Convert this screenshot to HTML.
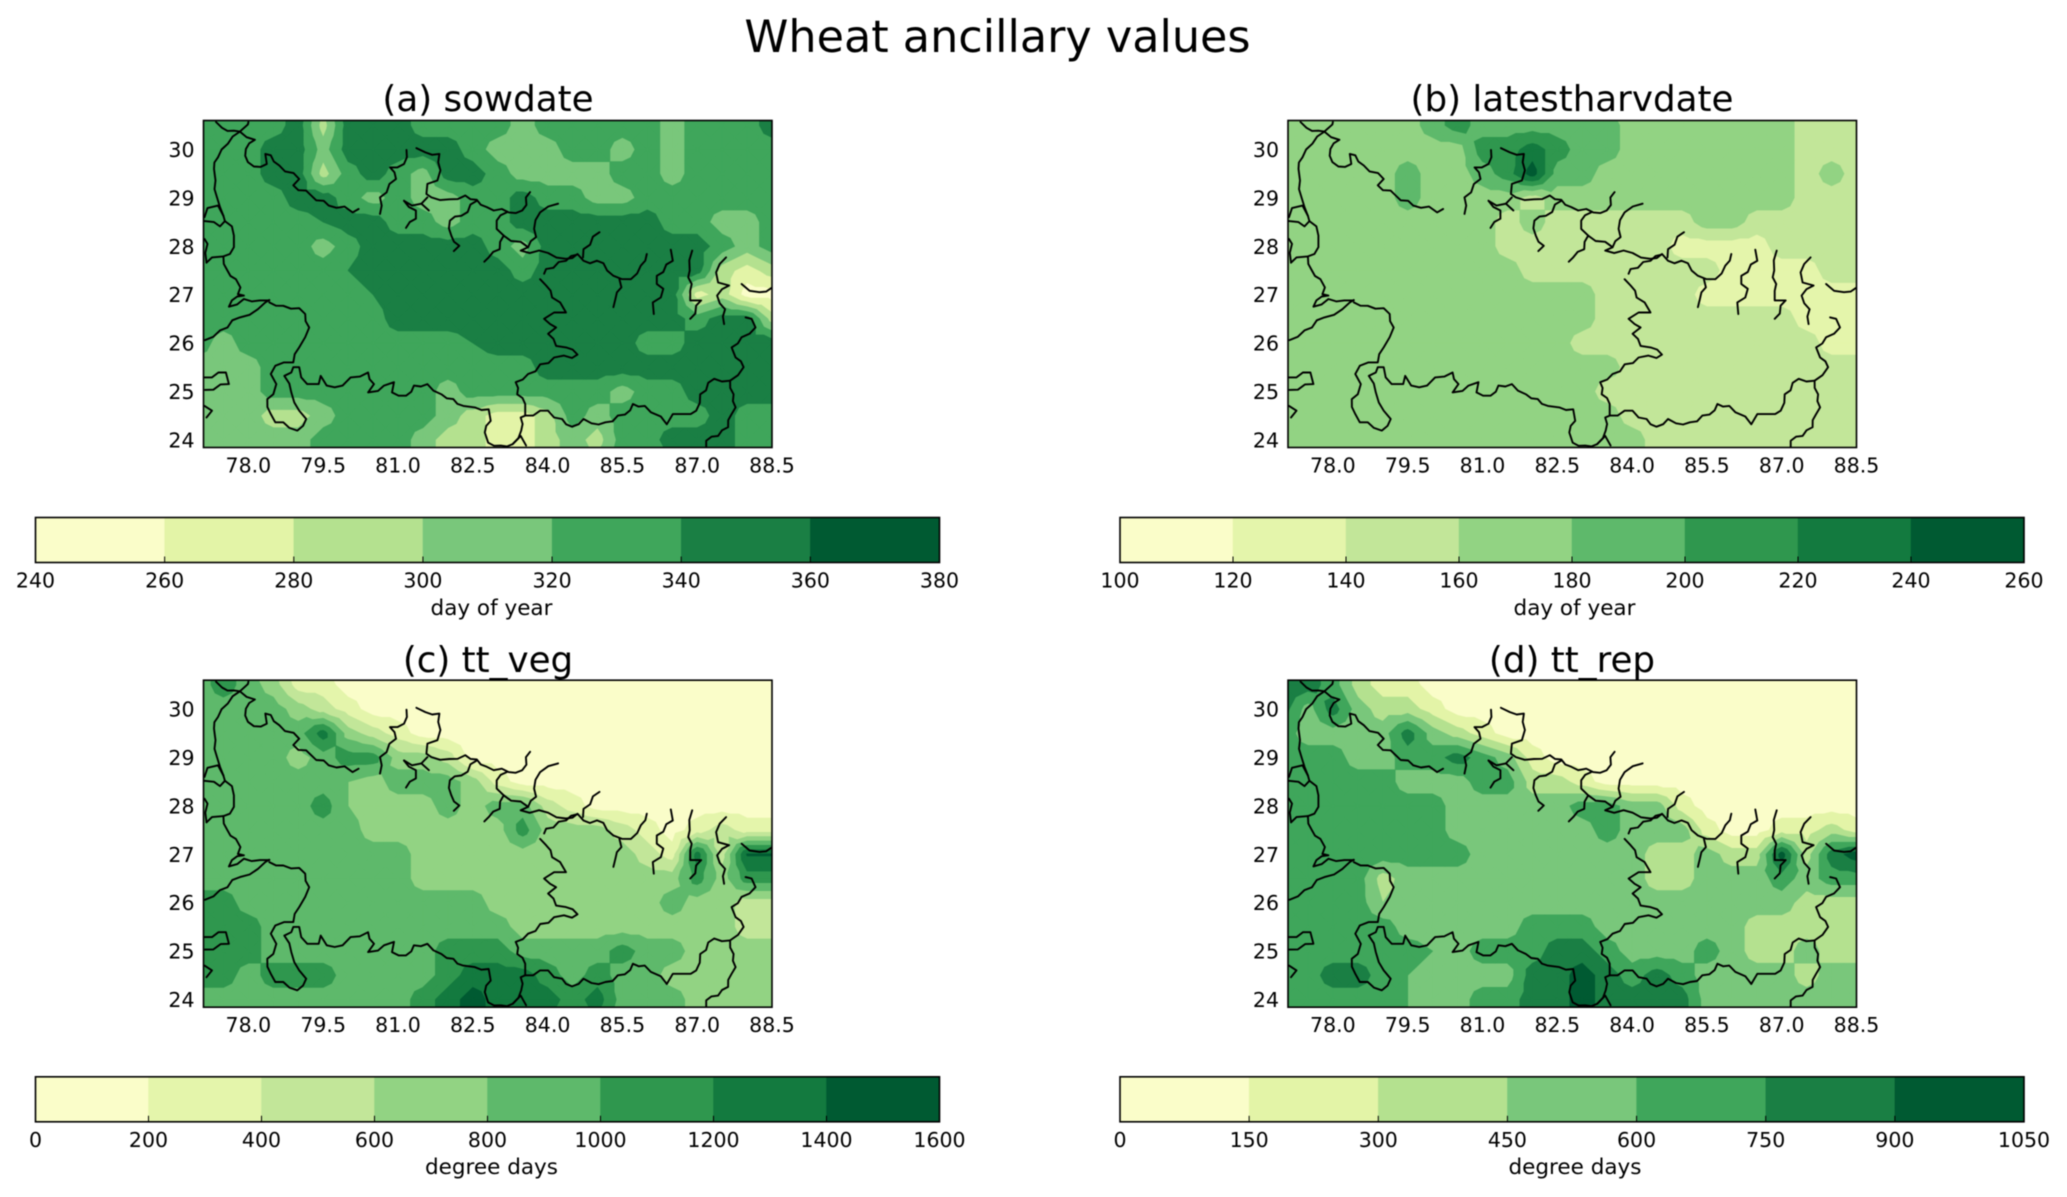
<!DOCTYPE html>
<html>
<head>
<meta charset="utf-8">
<title>Wheat ancillary values</title>
<style>
html,body{margin:0;padding:0;background:#fff;}
svg{display:block;filter:blur(0.4px);}
text{font-family:"DejaVu Sans","Liberation Sans",sans-serif;fill:#000;}
</style>
</head>
<body>
<svg id="figure" xmlns="http://www.w3.org/2000/svg" width="2067" height="1197" viewBox="0 0 2067 1197">
  <text x="997.5" y="52" font-size="44.5" text-anchor="middle">Wheat ancillary values</text>
  <g id="panel-a">
    <text x="488" y="111" font-size="35.7" text-anchor="middle">(a) sowdate</text>
    <text x="491.5" y="615" font-size="21.5" text-anchor="middle">day of year</text>
  </g>
  <g id="panel-b">
    <text x="1572" y="111" font-size="35.7" text-anchor="middle">(b) latestharvdate</text>
    <text x="1574.5" y="615" font-size="21.5" text-anchor="middle">day of year</text>
  </g>
  <g id="panel-c">
    <text x="488" y="672" font-size="35.7" text-anchor="middle">(c) tt_veg</text>
    <text x="491.5" y="1174" font-size="21.5" text-anchor="middle">degree days</text>
  </g>
  <g id="panel-d">
    <text x="1572" y="672" font-size="35.7" text-anchor="middle">(d) tt_rep</text>
    <text x="1575" y="1174" font-size="21.5" text-anchor="middle">degree days</text>
  </g>
</svg>
<script>
// ---------- axis ticks ----------
const lonTickLabels = ["78.0","79.5","81.0","82.5","84.0","85.5","87.0","88.5"];
const latTickLabels = ["24","25","26","27","28","29","30"];

// ---------- grid coordinates ----------
const gridLons = [77,77.5,78,78.5,79,79.5,80,80.5,81,81.5,82,82.5,83,83.5,84,84.5,85,85.5,86,86.5,87,87.5,88,88.5];
const gridLats = [31,30.5,30,29.5,29,28.5,28,27.5,27,26.5,26,25.5,25,24.5,24,23.5];

// ---------- contour levels ----------
const sowdateLevels = [240,260,280,300,320,340,360,380];
const latestharvdateLevels = [100,120,140,160,180,200,220,240,260];
const ttVegLevels = [0,200,400,600,800,1000,1200,1400,1600];
const ttRepLevels = [0,150,300,450,600,750,900,1050];

// ---------- colours ----------
const sevenBandColors = ["#fafdc9","#e3f4a7","#b4e18f","#79c77b","#3fa65b","#1a7f44","#005a32"];
const eightBandColors = ["#fafdc9","#e4f5ab","#c2e699","#92d383","#5eb96b","#2f974e","#137a3f","#005a32"];

// ---------- gridded values (rows north to south, columns west to east) ----------
const sowdateValues = [
[330,330,330,330,350,310,350,350,350,330,330,330,330,310,330,330,330,310,330,310,330,330,330,350],
[330,330,330,330,350,290,350,350,350,330,330,330,330,310,330,330,330,330,330,310,330,330,330,350],
[330,330,330,350,350,310,350,350,350,350,350,330,310,310,310,330,330,310,330,310,330,330,330,330],
[330,330,330,350,350,290,330,350,330,310,350,350,330,310,310,310,310,330,330,310,330,330,330,330],
[330,330,330,330,350,350,330,310,330,310,310,330,330,350,330,330,310,310,330,330,330,330,330,330],
[330,330,330,330,330,340,350,350,330,330,310,330,330,350,350,350,350,350,350,330,330,310,310,330],
[330,330,330,330,330,310,330,350,350,350,350,350,330,310,350,350,350,350,350,350,350,330,310,330],
[330,330,330,330,330,330,340,350,350,350,350,350,350,330,350,350,350,350,350,350,350,290,270,290],
[330,330,330,330,330,330,330,340,350,350,350,350,350,350,350,350,350,350,350,350,270,290,250,250],
[330,330,330,330,330,330,330,330,350,350,350,350,350,350,350,350,350,350,350,350,330,350,350,290],
[330,310,330,330,330,330,330,330,330,330,330,340,350,350,350,350,350,350,330,330,350,350,350,350],
[310,310,310,330,330,330,330,330,330,330,330,330,330,330,350,350,350,350,350,350,350,350,350,350],
[310,310,310,330,330,330,330,330,330,330,310,330,330,330,330,330,330,310,330,330,350,350,350,350],
[310,310,310,290,290,310,330,330,330,330,310,290,270,270,290,330,310,330,330,330,330,350,330,330],
[310,310,310,310,310,330,330,330,330,310,290,290,270,270,290,310,290,330,330,350,350,350,330,330],
[330,310,310,310,310,330,330,330,330,310,290,290,270,270,290,310,310,330,330,330,330,350,330,330]
];
const latestharvdateValues = [
[170,170,170,170,170,170,190,210,190,190,190,190,190,170,170,170,170,170,170,170,170,150,150,150],
[170,170,170,170,170,170,190,210,190,190,190,190,190,190,170,170,170,170,170,170,170,150,150,150],
[170,170,170,170,170,170,170,170,210,210,230,210,190,190,170,170,170,170,170,170,170,150,150,150],
[170,170,170,170,170,190,170,170,190,210,250,190,190,170,170,170,170,170,170,170,170,150,170,150],
[170,170,170,170,170,190,170,170,170,170,150,170,170,170,170,170,170,170,170,170,170,150,150,150],
[170,170,170,170,170,170,170,170,170,150,170,150,150,150,150,150,150,170,170,150,150,150,150,150],
[170,170,170,170,170,170,170,170,170,150,150,150,150,150,150,150,130,130,130,130,150,150,150,150],
[170,170,170,170,170,170,170,170,170,170,150,150,150,150,150,150,150,150,130,130,130,130,150,150],
[170,170,170,170,170,170,170,170,170,170,170,170,170,150,150,150,150,130,130,130,130,130,130,130],
[170,170,170,170,170,170,170,170,170,170,170,170,170,150,150,150,150,150,150,150,150,130,130,130],
[170,170,170,170,170,170,170,170,170,170,170,170,150,150,150,150,150,150,150,150,150,150,130,130],
[170,170,170,170,170,170,170,170,170,170,170,170,170,170,150,150,150,150,150,150,150,150,150,150],
[170,170,170,170,170,170,170,170,170,170,170,170,170,150,150,150,150,150,150,150,150,150,150,150],
[170,170,170,170,170,170,170,170,170,170,170,170,170,170,150,150,150,150,150,150,150,150,150,150],
[170,170,170,170,170,170,170,170,170,170,170,170,170,170,170,150,150,150,150,150,150,150,150,150],
[170,170,170,170,170,170,170,170,170,170,170,170,170,170,170,150,150,150,150,150,150,150,150,150]
];
const ttVegValues = [
[900,1100,900,500,300,100,100,100,100,100,100,100,100,100,100,100,100,100,100,100,100,100,100,100],
[900,1100,900,700,300,300,100,100,100,100,100,100,100,100,100,100,100,100,100,100,100,100,100,100],
[900,900,900,900,700,500,300,100,100,100,100,100,100,100,100,100,100,100,100,100,100,100,100,100],
[900,900,900,900,900,1300,700,500,300,100,100,100,100,100,100,100,100,100,100,100,100,100,100,100],
[900,900,900,900,700,900,1100,1100,700,700,500,100,100,100,100,100,100,100,100,100,100,100,100,100],
[900,900,900,900,900,900,800,700,900,900,900,700,300,100,100,100,100,100,100,100,100,100,100,100],
[900,900,900,900,900,1100,800,700,700,700,900,700,900,900,500,300,100,100,100,100,100,100,100,100],
[900,900,900,900,900,900,900,700,700,700,700,700,700,1100,700,700,700,500,300,100,300,500,300,300],
[900,900,900,900,900,900,900,900,900,700,700,700,700,700,700,700,700,700,500,300,1300,500,1420,1420],
[900,900,900,900,900,900,900,900,900,700,700,700,700,700,700,700,700,700,700,700,1100,700,1100,1100],
[1100,1100,900,900,900,900,900,900,900,900,900,900,700,700,700,700,700,700,700,900,700,700,500,500],
[1100,1100,1100,900,900,900,900,900,900,900,900,900,900,700,700,700,700,700,700,700,700,700,500,500],
[1100,1100,1100,900,900,900,900,900,900,900,1100,1100,1100,900,900,900,900,1100,900,900,700,700,700,700],
[1100,1100,900,1100,1100,1100,900,900,900,900,1100,1300,1300,1300,1100,900,1100,900,900,700,700,700,700,700],
[900,900,900,900,900,900,900,900,900,1100,1300,1500,1300,1300,1300,1100,1300,900,900,900,700,700,700,700],
[900,900,900,900,900,900,900,900,900,1100,1300,1500,1300,1300,1100,1100,1100,900,900,900,700,700,700,700]
];
const ttRepValues = [
[825,825,675,375,225,75,75,75,75,75,75,75,75,75,75,75,75,75,75,75,75,75,75,75],
[825,825,675,375,225,225,75,75,75,75,75,75,75,75,75,75,75,75,75,75,75,75,75,75],
[825,525,825,525,375,375,225,75,75,75,75,75,75,75,75,75,75,75,75,75,75,75,75,75],
[675,525,525,525,525,825,525,375,225,75,75,75,75,75,75,75,75,75,75,75,75,75,75,75],
[675,675,675,525,525,675,675,825,675,525,225,75,75,75,75,75,75,75,75,75,75,75,75,75],
[675,675,675,675,675,525,525,525,675,675,375,375,225,75,75,75,75,75,75,75,75,75,75,75],
[675,675,675,675,675,675,675,525,525,525,525,525,675,675,525,525,225,75,75,75,75,75,75,75],
[675,675,675,675,675,675,675,525,525,525,525,525,525,675,525,525,525,225,75,75,225,225,375,225],
[675,675,675,675,675,675,675,675,525,525,525,525,525,525,525,375,375,525,375,375,975,375,825,975],
[675,675,675,675,375,525,525,525,525,525,525,525,525,525,525,375,375,525,525,525,675,525,675,675],
[675,675,675,675,450,525,525,525,525,525,525,525,525,525,525,525,525,525,525,525,525,375,375,375],
[675,675,675,675,675,525,525,525,525,525,675,675,675,525,525,525,525,525,525,375,375,375,375,375],
[675,675,675,675,675,675,600,525,675,675,675,825,825,675,525,525,525,675,525,375,375,525,375,375],
[675,675,825,825,675,600,525,525,525,525,825,825,975,825,675,825,675,525,525,525,525,375,525,525],
[675,675,675,675,675,600,525,525,675,675,825,825,975,825,825,825,825,525,525,525,525,525,525,525],
[675,675,675,675,675,600,525,525,675,675,825,825,975,825,825,825,825,525,525,525,525,525,525,525]
];

// ---------- geographic outlines, as [lon,lat] vertices ----------
const outlineLonLat = [
[[77.35,30.57],[77.47,30.45],[77.71,30.39],[77.83,30.37],[77.99,30.52],[78.0,30.57]],
[[77.83,30.37],[77.59,30.12],[77.39,29.84],[77.31,29.6],[77.34,29.36],[77.37,29.01],[77.43,28.81],[77.5,28.63],[77.53,28.52],[77.67,28.41],[77.71,28.22],[77.71,27.98],[77.63,27.84],[77.5,27.79],[77.27,27.77],[77.16,27.66]],
[[77.12,28.6],[77.18,28.79],[77.39,28.84],[77.5,28.63]],
[[77.12,28.52],[77.31,28.5],[77.43,28.41],[77.53,28.52]],
[[77.12,28.15],[77.18,28.05],[77.16,27.67]],
[[77.5,27.79],[77.58,27.5],[77.75,27.32],[77.84,27.15],[77.79,27.01],[77.91,26.98],[77.67,26.88],[77.61,26.75],[77.91,26.91],[78.23,26.88],[78.42,26.88]],
[[77.13,26.06],[77.43,26.26],[77.83,26.53],[78.19,26.7],[78.34,26.84],[78.42,26.89]],
[[78.42,26.84],[78.7,26.77],[79.02,26.72],[79.14,26.6],[79.22,26.32],[79.14,26.12],[79.02,25.91],[78.9,25.6],[78.54,25.53],[78.45,25.36],[78.56,25.15],[78.5,24.94],[78.38,24.84],[78.45,24.53],[78.54,24.36],[78.7,24.36],[78.98,24.19],[79.16,24.43],[79.02,24.6],[78.92,24.77],[78.86,24.98],[78.72,25.32],[78.86,25.39],[78.9,25.5],[79.02,25.5],[79.06,25.29],[79.18,25.15],[79.41,25.15],[79.45,25.32],[79.57,25.12],[79.89,25.12],[80.05,25.29],[80.4,25.39],[80.52,25.15],[80.4,24.98],[80.6,25.01],[80.72,25.12],[80.92,25.19],[80.88,24.98],[81.16,24.91],[81.32,25.12],[81.59,25.15],[81.87,24.94],[82.11,24.84],[82.31,24.7],[82.54,24.67],[82.82,24.63],[82.86,24.39],[82.74,24.15],[82.81,23.94],[83.06,23.88],[83.3,23.91],[83.47,24.19],[83.46,24.46],[83.55,24.5],[84.01,24.6],[84.13,24.46],[84.29,24.43],[84.49,24.27],[84.72,24.43],[84.88,24.34],[85.16,24.36],[85.55,24.52],[85.71,24.74],[85.95,24.7],[86.07,24.57],[86.27,24.48],[86.39,24.32],[86.51,24.53],[86.74,24.53],[86.98,24.6],[87.06,24.94],[87.34,25.26],[87.66,25.22],[87.73,24.94],[87.77,24.67],[87.69,24.53],[87.62,24.26],[87.42,24.08],[87.18,23.98],[87.18,23.85]],
[[83.55,24.5],[83.55,24.74],[83.39,24.94],[83.36,25.19],[83.61,25.36],[84.13,25.7],[84.33,25.74],[84.49,25.69],[84.6,25.76],[84.37,25.91],[84.17,25.94],[84.01,26.19],[84.17,26.32],[84.05,26.39],[83.93,26.5],[84.13,26.63],[84.37,26.63],[84.25,26.84],[84.09,26.94],[83.97,27.19],[83.85,27.32]],
[[83.3,23.91],[83.46,24.08],[83.57,23.88]],
[[87.66,25.22],[87.93,25.5],[87.77,25.7],[87.69,25.91],[87.89,26.12],[88.17,26.32],[88.09,26.5],[87.97,26.53]],
[[77.12,25.29],[77.55,25.39],[77.61,25.15],[77.13,25.03]],
[[77.12,24.7],[77.27,24.6],[77.16,24.46]],
[[77.83,30.37],[78.13,30.2],[77.95,30.01],[77.99,29.74],[78.11,29.65],[78.37,29.7],[78.34,29.91],[78.45,29.88],[78.62,29.67],[79.02,29.39],[78.9,29.26],[79.26,29.05],[79.61,28.84],[79.93,28.82],[80.09,28.7],[80.21,28.77]],
[[80.64,28.67],[80.64,29.01],[80.96,29.39],[80.84,29.63],[81.12,29.7],[81.17,29.99]],
[[81.37,30.03],[81.55,29.94],[81.83,29.91],[81.85,29.57],[81.79,29.36],[81.59,29.29],[81.57,29.08],[81.67,29.01],[82.03,28.97],[82.35,29.05],[82.58,28.96],[82.78,28.81],[83.22,28.7],[83.49,28.74],[83.65,29.12]],
[[81.59,29.01],[81.47,28.88],[81.62,28.74]],
[[81.12,28.94],[81.28,28.84],[81.47,28.88]],
[[81.12,28.94],[81.36,28.74],[81.36,28.57],[81.16,28.38]],
[[82.58,28.94],[82.27,28.63],[82.04,28.53],[82.07,28.22],[82.23,28.01],[82.12,27.9]],
[[83.18,28.7],[82.98,28.53],[82.98,28.36],[83.12,28.22],[83.61,27.98],[83.46,27.91],[84.01,27.86],[84.37,27.74],[84.6,27.84],[84.72,27.7],[85.12,27.65],[85.32,27.39],[85.67,27.32],[85.87,27.6],[85.99,27.84]],
[[84.21,28.88],[83.85,28.7],[83.73,28.36],[83.77,28.19],[83.61,27.98]],
[[83.12,28.22],[83.04,27.94],[82.82,27.77],[82.73,27.68]],
[[84.6,27.83],[84.37,27.7],[83.97,27.53],[83.93,27.43]],
[[85.04,28.29],[84.72,27.94],[84.71,27.77]],
[[85.44,27.32],[85.48,27.15],[85.36,26.91],[85.32,26.74]],
[[86.47,27.93],[86.51,27.7],[86.19,27.39],[86.19,27.22],[86.32,27.12],[86.27,26.94],[86.11,26.84],[86.13,26.6]],
[[86.9,27.91],[86.85,27.5],[86.86,27.08],[86.86,26.88],[87.08,26.88],[86.86,26.5]],
[[87.58,27.77],[87.38,27.46],[87.42,27.25],[87.64,27.19],[87.4,26.98],[87.56,26.7],[87.54,26.39]],
[[87.89,27.22],[88.05,27.08],[88.25,27.05],[88.49,27.14]]
];

// ---------- drawing ----------
const SVGNS = "http://www.w3.org/2000/svg";
const LON_MIN = 77.1, LON_MAX = 88.5, LAT_MIN = 23.84, LAT_MAX = 30.6;

function create(parent, tag, attrs) {
  const el = document.createElementNS(SVGNS, tag);
  for (const k in attrs) el.setAttribute(k, attrs[k]);
  parent.appendChild(el);
  return el;
}

function clipTriangle(tri, level) {
  const out = [];
  for (let i = 0; i < tri.length; i++) {
    const a = tri[i], b = tri[(i + 1) % tri.length];
    const aIn = a[2] >= level, bIn = b[2] >= level;
    if (aIn) out.push(a);
    if (aIn !== bIn) {
      const t = (level - a[2]) / (b[2] - a[2]);
      out.push([a[0] + t * (b[0] - a[0]), a[1] + t * (b[1] - a[1]), level]);
    }
  }
  return out;
}

// Adds the fine meander of the rivers and borders between traced vertices.
function meander(points) {
  const out = [points[0]];
  for (let i = 1; i < points.length; i++) {
    const a = points[i - 1], b = points[i];
    const dx = b[0] - a[0], dy = b[1] - a[1];
    const len = Math.hypot(dx, dy) || 1;
    const nx = -dy / len, ny = dx / len;
    const steps = Math.max(1, Math.round(len / 8));
    for (let s = 1; s < steps; s++) {
      const amp = s % 2 ? 1.7 : -1.7;
      out.push([a[0] + dx * s / steps + nx * amp, a[1] + dy * s / steps + ny * amp]);
    }
    out.push(b);
  }
  return out;
}

function drawMap(groupId, prefix, frame, values, levels, colors) {
  const group = document.getElementById(groupId);
  const xScale = function (lon) { return frame.x + (lon - LON_MIN) / (LON_MAX - LON_MIN) * frame.w; };
  const yScale = function (lat) { return frame.y + (LAT_MAX - lat) / (LAT_MAX - LAT_MIN) * frame.h; };
  const clipId = "clip-" + groupId;
  const defs = create(group, "defs", {});
  const clip = create(defs, "clipPath", { id: clipId });
  create(clip, "rect", { x: frame.x, y: frame.y, width: frame.w, height: frame.h });

  const contours = create(group, "g", { "clip-path": "url(#" + clipId + ")" });
  
  
  const base = create(contours, "rect", { x: frame.x, y: frame.y, width: frame.w, height: frame.h, fill: colors[0] });
  
  

  for (let k = 1; k < colors.length; k++) {
    const level = levels[k];
    let d = "";
    for (let j = 0; j < gridLats.length - 1; j++) {
      for (let i = 0; i < gridLons.length - 1; i++) {
        const x0 = xScale(gridLons[i]), x1 = xScale(gridLons[i + 1]);
        const y0 = yScale(gridLats[j]), y1 = yScale(gridLats[j + 1]);
        const v00 = values[j][i], v10 = values[j][i + 1], v01 = values[j + 1][i], v11 = values[j + 1][i + 1];
        const c = [(x0 + x1) / 2, (y0 + y1) / 2, (v00 + v10 + v01 + v11) / 4];
        const corners = [[x0, y0, v00], [x1, y0, v10], [x1, y1, v11], [x0, y1, v01]];
        for (let m = 0; m < 4; m++) {
          const poly = clipTriangle([corners[m], corners[(m + 1) % 4], c], level);
          if (poly.length > 2) {
            d += "M" + poly.map(function (p) { return p[0].toFixed(1) + " " + p[1].toFixed(1); }).join("L") + "Z";
          }
        }
      }
    }
    if (d) {
      const band = create(contours, "path", { d: d, fill: colors[k], stroke: colors[k], "stroke-width": "0.7", "stroke-linejoin": "round" });
      
      
    }
  }

  const outlines = create(group, "g", { "clip-path": "url(#" + clipId + ")", fill: "none", stroke: "#000", "stroke-width": "1.9", "stroke-linejoin": "round", "stroke-linecap": "round" });
  
  
  outlineLonLat.forEach(function (line) {
    const projected = line.map(function (p) { return [xScale(p[0]), yScale(p[1])]; });
    const pts = meander(projected).map(function (p) { return p[0].toFixed(1) + "," + p[1].toFixed(1); }).join(" ");
    const poly = create(outlines, "polyline", { points: pts });
    
    
  });

  const border = create(group, "rect", { x: frame.x, y: frame.y, width: frame.w, height: frame.h, fill: "none", stroke: "#000", "stroke-width": "1.6" });
  
  

  lonTickLabels.forEach(function (label) {
    const t = create(group, "text", { x: xScale(parseFloat(label)), y: frame.y + frame.h + 25, "font-size": "20.5", "text-anchor": "middle" });
    t.textContent = label;
    
    
  });
  latTickLabels.forEach(function (label) {
    const t = create(group, "text", { x: frame.x - 9, y: yScale(parseFloat(label)) + 7.5, "font-size": "20.5", "text-anchor": "end" });
    t.textContent = label;
    
    
  });
}

function drawColorbar(groupId, prefix, bar, levels, colors) {
  const group = document.getElementById(groupId);
  const lo = levels[0], hi = levels[levels.length - 1];
  const xScale = function (v) { return bar.x + (v - lo) / (hi - lo) * bar.w; };
  for (let k = 0; k < colors.length; k++) {
    const seg = create(group, "rect", { x: xScale(levels[k]), y: bar.y, width: xScale(levels[k + 1]) - xScale(levels[k]), height: bar.h, fill: colors[k], stroke: colors[k], "stroke-width": "0.4" });
    
    
  }
  const frame = create(group, "rect", { x: bar.x, y: bar.y, width: bar.w, height: bar.h, fill: "none", stroke: "#000", "stroke-width": "1.6" });
  
  
  levels.forEach(function (v) {
    const x = xScale(v);
    const tick = create(group, "line", { x1: x, x2: x, y1: bar.y + bar.h, y2: bar.y + bar.h - 6, stroke: "#000", "stroke-width": "1" });
    
    
    const t = create(group, "text", { x: x, y: bar.y + bar.h + 25, "font-size": "20.5", "text-anchor": "middle" });
    t.textContent = String(v);
    
    
  });
}

const leftX = 203.5, rightX = 1288, mapW = 568.5, mapH = 327, topY = 120.5, lowY = 680.2;
const barLeft = 35.5, barRight = 1120, barW = 904, barH = 45, barTop = 517.5, barLow = 1076.8;

drawMap("panel-a", "sowdate", { x: leftX, y: topY, w: mapW, h: mapH }, sowdateValues, sowdateLevels, sevenBandColors);
drawMap("panel-b", "latestharvdate", { x: rightX, y: topY, w: mapW, h: mapH }, latestharvdateValues, latestharvdateLevels, eightBandColors);
drawMap("panel-c", "tt-veg", { x: leftX, y: lowY, w: mapW, h: mapH }, ttVegValues, ttVegLevels, eightBandColors);
drawMap("panel-d", "tt-rep", { x: rightX, y: lowY, w: mapW, h: mapH }, ttRepValues, ttRepLevels, sevenBandColors);

drawColorbar("panel-a", "sowdate", { x: barLeft, y: barTop, w: barW, h: barH }, sowdateLevels, sevenBandColors);
drawColorbar("panel-b", "latestharvdate", { x: barRight, y: barTop, w: barW, h: barH }, latestharvdateLevels, eightBandColors);
drawColorbar("panel-c", "tt-veg", { x: barLeft, y: barLow, w: barW, h: barH }, ttVegLevels, eightBandColors);
drawColorbar("panel-d", "tt-rep", { x: barRight, y: barLow, w: barW, h: barH }, ttRepLevels, sevenBandColors);
</script>
</body>
</html>
